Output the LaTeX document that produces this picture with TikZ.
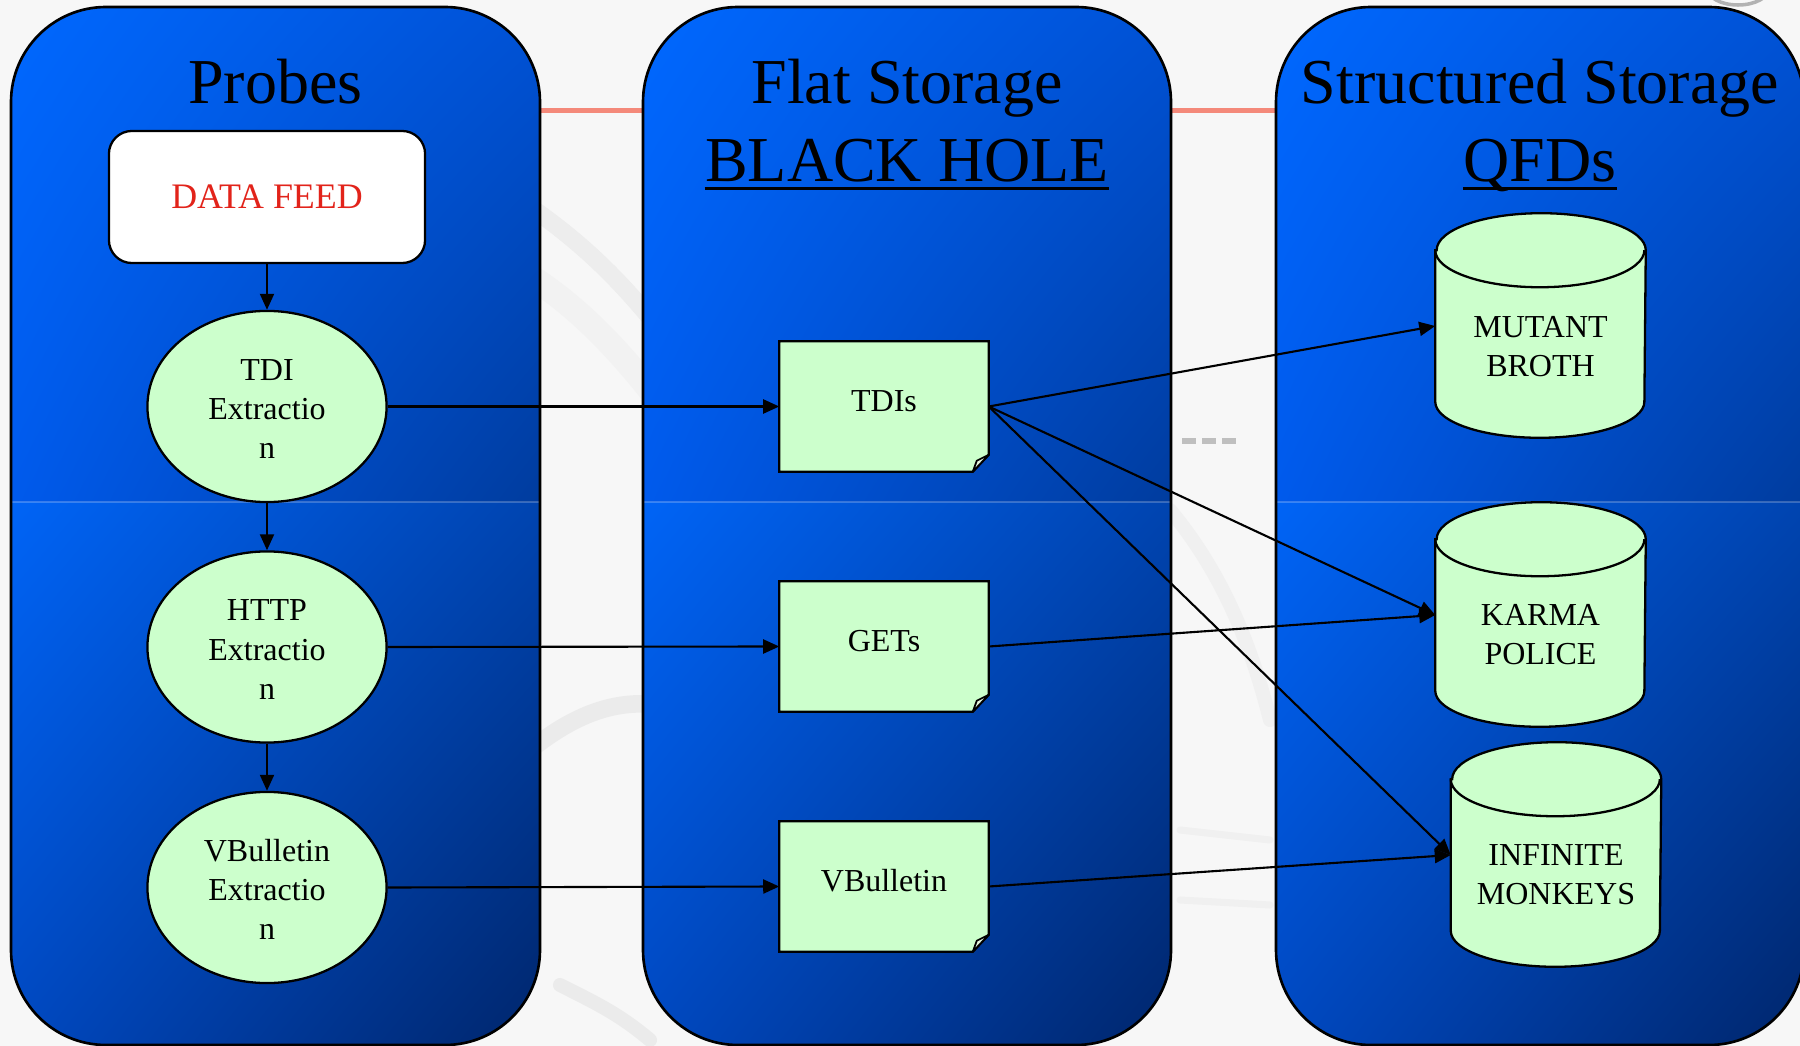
\documentclass[tikz,border=0pt]{standalone}
\usepackage{fontspec}
\setmainfont{Liberation Serif}
\usetikzlibrary{arrows.meta,shapes.geometric,calc,shadings}
\definecolor{nodegreen}{HTML}{CCFFCC}
\definecolor{foldgreen}{HTML}{E4F6DE}
\definecolor{feedred}{HTML}{E2231A}
\definecolor{salmon}{HTML}{F4897A}
\definecolor{bgwhite}{HTML}{F7F7F7}
\definecolor{pA}{HTML}{0068FF}
\definecolor{pB}{HTML}{0052D6}
\definecolor{pC}{HTML}{005AEC}
\definecolor{pD}{HTML}{003C9E}
\definecolor{pE}{HTML}{0064F6}
\definecolor{pF}{HTML}{0044B0}
\definecolor{pG}{HTML}{0048C0}
\definecolor{pH}{HTML}{00266C}
\pgfdeclarelayer{panels}
\pgfdeclarelayer{shapes}
\pgfsetlayers{panels,shapes,main}

\newcommand\drawpanel[2]{%
  \begin{scope}
    \clip[rounded corners=0.95cm] (#1,-7) rectangle (#2,-1045);
    \shade[upper left=pA, upper right=pB, lower left=pC, lower right=pD] (#1,-7) rectangle (#2,-502);
    \shade[upper left=pE, upper right=pF, lower left=pG, lower right=pH] (#1,-502) rectangle (#2,-1045);
    \draw[white, opacity=0.22, line width=0.3pt] (#1,-502) -- (#2,-502);
  \end{scope}
  \draw[line width=0.75pt, rounded corners=0.95cm] (#1,-7) rectangle (#2,-1045);}

\newcommand\notebg[1]{%
  \begin{pgfonlayer}{shapes}
    \filldraw[fill=nodegreen, line width=0.65pt, line join=miter]
      (#1.north west) -- (#1.north east) -- ($(#1.south east)+(0,17)$)
      -- ($(#1.south east)+(-16,0)$) -- (#1.south west) -- cycle;
    \filldraw[fill=foldgreen, line width=0.5pt, line join=round]
      ($(#1.south east)+(-16,0)$) -- ($(#1.south east)+(-12,11)$)
      -- ($(#1.south east)+(0,17)$) -- cycle;
  \end{pgfonlayer}}

\newcommand\cylbg[1]{%
  \begin{pgfonlayer}{shapes}
    \filldraw[fill=nodegreen, line width=0.65pt]
      ($(#1.north west)+(0,-37)$) -- ($(#1.south west)+(0,37)$)
      arc[start angle=180, end angle=360, x radius=1.045cm, y radius=0.36cm]
      -- ($(#1.north east)+(0,-37)$)
      arc[start angle=0, end angle=180, x radius=1.045cm, y radius=0.37cm] -- cycle;
    \draw[line width=0.65pt] ($(#1.north west)+(0,-37)$)
      arc[start angle=180, end angle=360, x radius=1.045cm, y radius=0.37cm];
  \end{pgfonlayer}}

\newcommand\topstrut{\rule{0pt}{7.4pt}}

\begin{document}
\begin{tikzpicture}[x=0.01cm, y=0.01cm,
  ptitle/.style={font=\fontsize{18.2}{22}\selectfont, inner sep=0pt, anchor=base},
  uline/.style={line width=0.9pt},
  bodyfont/.style={font=\fontsize{9.1}{11.1}\selectfont},
  feedbox/.style={rectangle, rounded corners=0.23cm, draw, fill=white, line width=0.65pt,
    minimum width=3.16cm, minimum height=1.32cm, text=feedred,
    font=\fontsize{10.2}{12}\selectfont},
  ellnode/.style={ellipse, draw, line width=0.65pt, fill=nodegreen, minimum width=2.39cm,
    minimum height=1.91cm, inner sep=0pt, align=center, bodyfont},
  notenode/.style={rectangle, minimum width=2.08cm, minimum height=1.29cm, inner sep=0pt,
    text height=0.21cm, text depth=0.12cm, bodyfont},
  cylnode/.style={rectangle, minimum width=2.09cm, minimum height=2.24cm, inner sep=0pt},
  cyltext/.style={align=center, inner sep=0pt, bodyfont},
  flow/.style={line width=0.6pt, -{Triangle[length=0.16cm, width=0.14cm]}}
]
\useasboundingbox (0,0) rectangle (1800,-1046);
\clip (0,0) rectangle (1800,-1046);

\begin{pgfonlayer}{panels}
  % background
  \fill[bgwhite] (0,0) rectangle (1800,-1046);
  \begin{scope}[line cap=round]
    \draw[black!7, line width=5pt] (520,-200) .. controls (580,-240) and (620,-280) .. (660,-330);
    \draw[black!5, line width=7pt] (520,-270) .. controls (570,-300) and (610,-340) .. (650,-390);
    \draw[black!8, line width=5pt] (530,-750) .. controls (580,-710) and (620,-700) .. (660,-705);
    \draw[black!8, line width=4pt] (560,-985) .. controls (600,-1005) and (620,-1015) .. (650,-1040);
    \fill[black!25] (1182,-438) rectangle (1196,-444);
    \fill[black!25] (1202,-438) rectangle (1216,-444);
    \fill[black!25] (1222,-438) rectangle (1236,-444);
    \draw[black!6, line width=4pt] (1170,-510) .. controls (1220,-570) and (1250,-640) .. (1270,-720);
    \draw[black!6, line width=2pt] (1180,-830) -- (1270,-840);
    \draw[black!6, line width=2pt] (1180,-900) -- (1270,-905);
    \draw[black!30, line width=1pt] (1738,12) ellipse [x radius=0.31cm, y radius=0.17cm];
  \end{scope}
  \draw[salmon, line width=1.7pt] (540,-110.5) -- (1276,-110.5);
  \drawpanel{11}{540}
  \drawpanel{643}{1171}
  \drawpanel{1276}{1804}
\end{pgfonlayer}

% titles
\node[ptitle] (t1) at (275.5,-104) {Probes};
\node[ptitle] (t2) at (907,-104) {Flat Storage};
\node[ptitle] (t2b) at (907,-182) {BLACK HOLE};
\node[ptitle] (t3) at (1540,-104) {Structured Storage};
\node[ptitle] (t3b) at (1540,-182) {QFDs};
\draw[uline] ($(t2b.base west)+(0,-6.5)$) -- ($(t2b.base east)+(0,-6.5)$);
\draw[uline] ($(t3b.base west)+(0,-6.5)$) -- ($(t3b.base east)+(0,-6.5)$);

% probes column
\node[feedbox] (feed) at (267,-197) {DATA FEED};
\node[ellnode] (tdi) at (267,-406.5) {\topstrut TDI\\Extractio\\n};
\node[ellnode] (http) at (267,-647) {\topstrut HTTP\\Extractio\\n};
\node[ellnode] (vb) at (267,-887.5) {\topstrut VBulletin\\Extractio\\n};

% flat storage column
\node[notenode] (tdis) at (884,-406.5) {TDIs};
\node[notenode] (gets) at (884,-646.5) {GETs};
\node[notenode] (vbs) at (884,-886.5) {VBulletin};
\notebg{tdis}
\notebg{gets}
\notebg{vbs}

% structured storage column
\node[cylnode] (mb) at (1540.5,-326) {};
\node[cylnode] (kp) at (1540.5,-615) {};
\node[cylnode] (im) at (1556,-855) {};
\cylbg{mb}
\cylbg{kp}
\cylbg{im}
\node[cyltext] (mbt) at (1540.5,-347) {MUTANT\\BROTH};
\node[cyltext] (kpt) at (1540.5,-635) {KARMA\\POLICE};
\node[cyltext] (imt) at (1556,-875) {INFINITE\\MONKEYS};

% connectors
\draw[flow] (feed.south) -- (tdi.north);
\draw[flow] (tdi.south) -- (http.north);
\draw[flow] (http.south) -- (vb.north);
\draw[flow] (tdi.east) -- (tdis.west);
\draw[flow] (http.east) -- (gets.west);
\draw[flow] (vb.east) -- (vbs.west);
\draw[flow] (tdis.east) -- (mb.west);
\draw[flow] (tdis.east) -- (kp.west);
\draw[flow] (tdis.east) -- (im.west);
\draw[flow] (gets.east) -- (kp.west);
\draw[flow] (vbs.east) -- (im.west);
\end{tikzpicture}
\end{document}
